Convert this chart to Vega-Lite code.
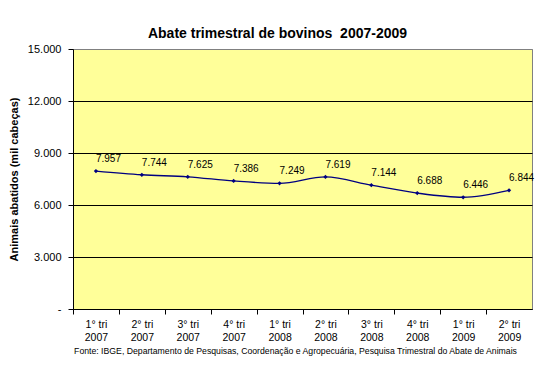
{
  "$schema": "https://vega.github.io/schema/vega-lite/v6.json",
  "width": 459,
  "height": 260,
  "autosize": {"type": "none"},
  "padding": {"left": 73, "top": 49, "right": 19, "bottom": 70},
  "background": "white",
  "title": {
    "text": "Abate trimestral de bovinos \u00a02007-2009",
    "font": "Liberation Sans",
    "fontSize": 14,
    "fontWeight": "bold",
    "color": "black",
    "anchor": "middle",
    "frame": "group",
    "dx": -25,
    "offset": 2
  },
  "data": {
    "values": [
      {"periodo": "1° tri 2007", "valor": 7957},
      {"periodo": "2° tri 2007", "valor": 7744},
      {"periodo": "3° tri 2007", "valor": 7625},
      {"periodo": "4° tri 2007", "valor": 7386},
      {"periodo": "1° tri 2008", "valor": 7249},
      {"periodo": "2° tri 2008", "valor": 7619},
      {"periodo": "3° tri 2008", "valor": 7144},
      {"periodo": "4° tri 2008", "valor": 6688},
      {"periodo": "1° tri 2009", "valor": 6446},
      {"periodo": "2° tri 2009", "valor": 6844}
    ]
  },
  "encoding": {
    "x": {
      "field": "periodo",
      "type": "ordinal",
      "sort": null,
      "scale": {"paddingInner": 0, "paddingOuter": 0},
      "axis": {
        "title": "Fonte: IBGE, Departamento de Pesquisas, Coordenação e Agropecuária, Pesquisa Trimestral do Abate de Animais",
        "titleFont": "Liberation Sans",
        "titleFontSize": 8.7,
        "titleFontWeight": "normal",
        "titleColor": "black",
        "titlePadding": 4,
        "titleX": 222,
        "titleAlign": "center",
        "labelAngle": 0,
        "labelExpr": "[slice(datum.value, 0, 6), slice(datum.value, 7)]",
        "labelFont": "Liberation Sans",
        "labelFontSize": 10.5,
        "labelColor": "black",
        "labelLineHeight": 13,
        "labelPadding": 5,
        "tickOffset": -22.95,
        "labelOffset": 22.95,
        "tickColor": "black",
        "tickSize": 5,
        "domainColor": "black",
        "grid": false
      }
    },
    "y": {
      "field": "valor",
      "type": "quantitative",
      "scale": {"domain": [0, 15000], "nice": false},
      "axis": {
        "title": "Animais abatidos (mil cabeças)",
        "titleFont": "Liberation Sans",
        "titleFontSize": 11,
        "titleFontWeight": "bold",
        "titleColor": "black",
        "titlePadding": 8,
        "values": [0, 3000, 6000, 9000, 12000, 15000],
        "format": ",d",
        "labelExpr": "datum.value === 0 ? '-\u2007\u2007' : datum.label",
        "labelFont": "Liberation Sans",
        "labelFontSize": 11,
        "labelColor": "black",
        "labelPadding": 7,
        "tickColor": "black",
        "tickSize": 5,
        "domainColor": "black",
        "grid": true,
        "gridColor": {"condition": {"test": "datum.value === 15000", "value": "#808080"}, "value": "black"},
        "gridOpacity": 1
      }
    }
  },
  "layer": [
    {
      "mark": {"type": "line", "color": "#000080", "strokeWidth": 1.3, "interpolate": "monotone"}
    },
    {
      "mark": {"type": "point", "shape": "diamond", "filled": true, "color": "#000080", "size": 18, "opacity": 1}
    },
    {
      "mark": {"type": "text", "align": "left", "baseline": "middle", "dx": 0, "dy": -12, "font": "Liberation Sans", "fontSize": 10, "color": "black"},
      "encoding": {"text": {"field": "valor", "type": "quantitative", "format": ",d"}}
    }
  ],
  "config": {
    "locale": {"number": {"decimal": ",", "thousands": ".", "grouping": [3], "currency": ["R$", ""]}},
    "view": {"fill": "#FFFF99", "stroke": "#808080", "strokeWidth": 1}
  }
}
